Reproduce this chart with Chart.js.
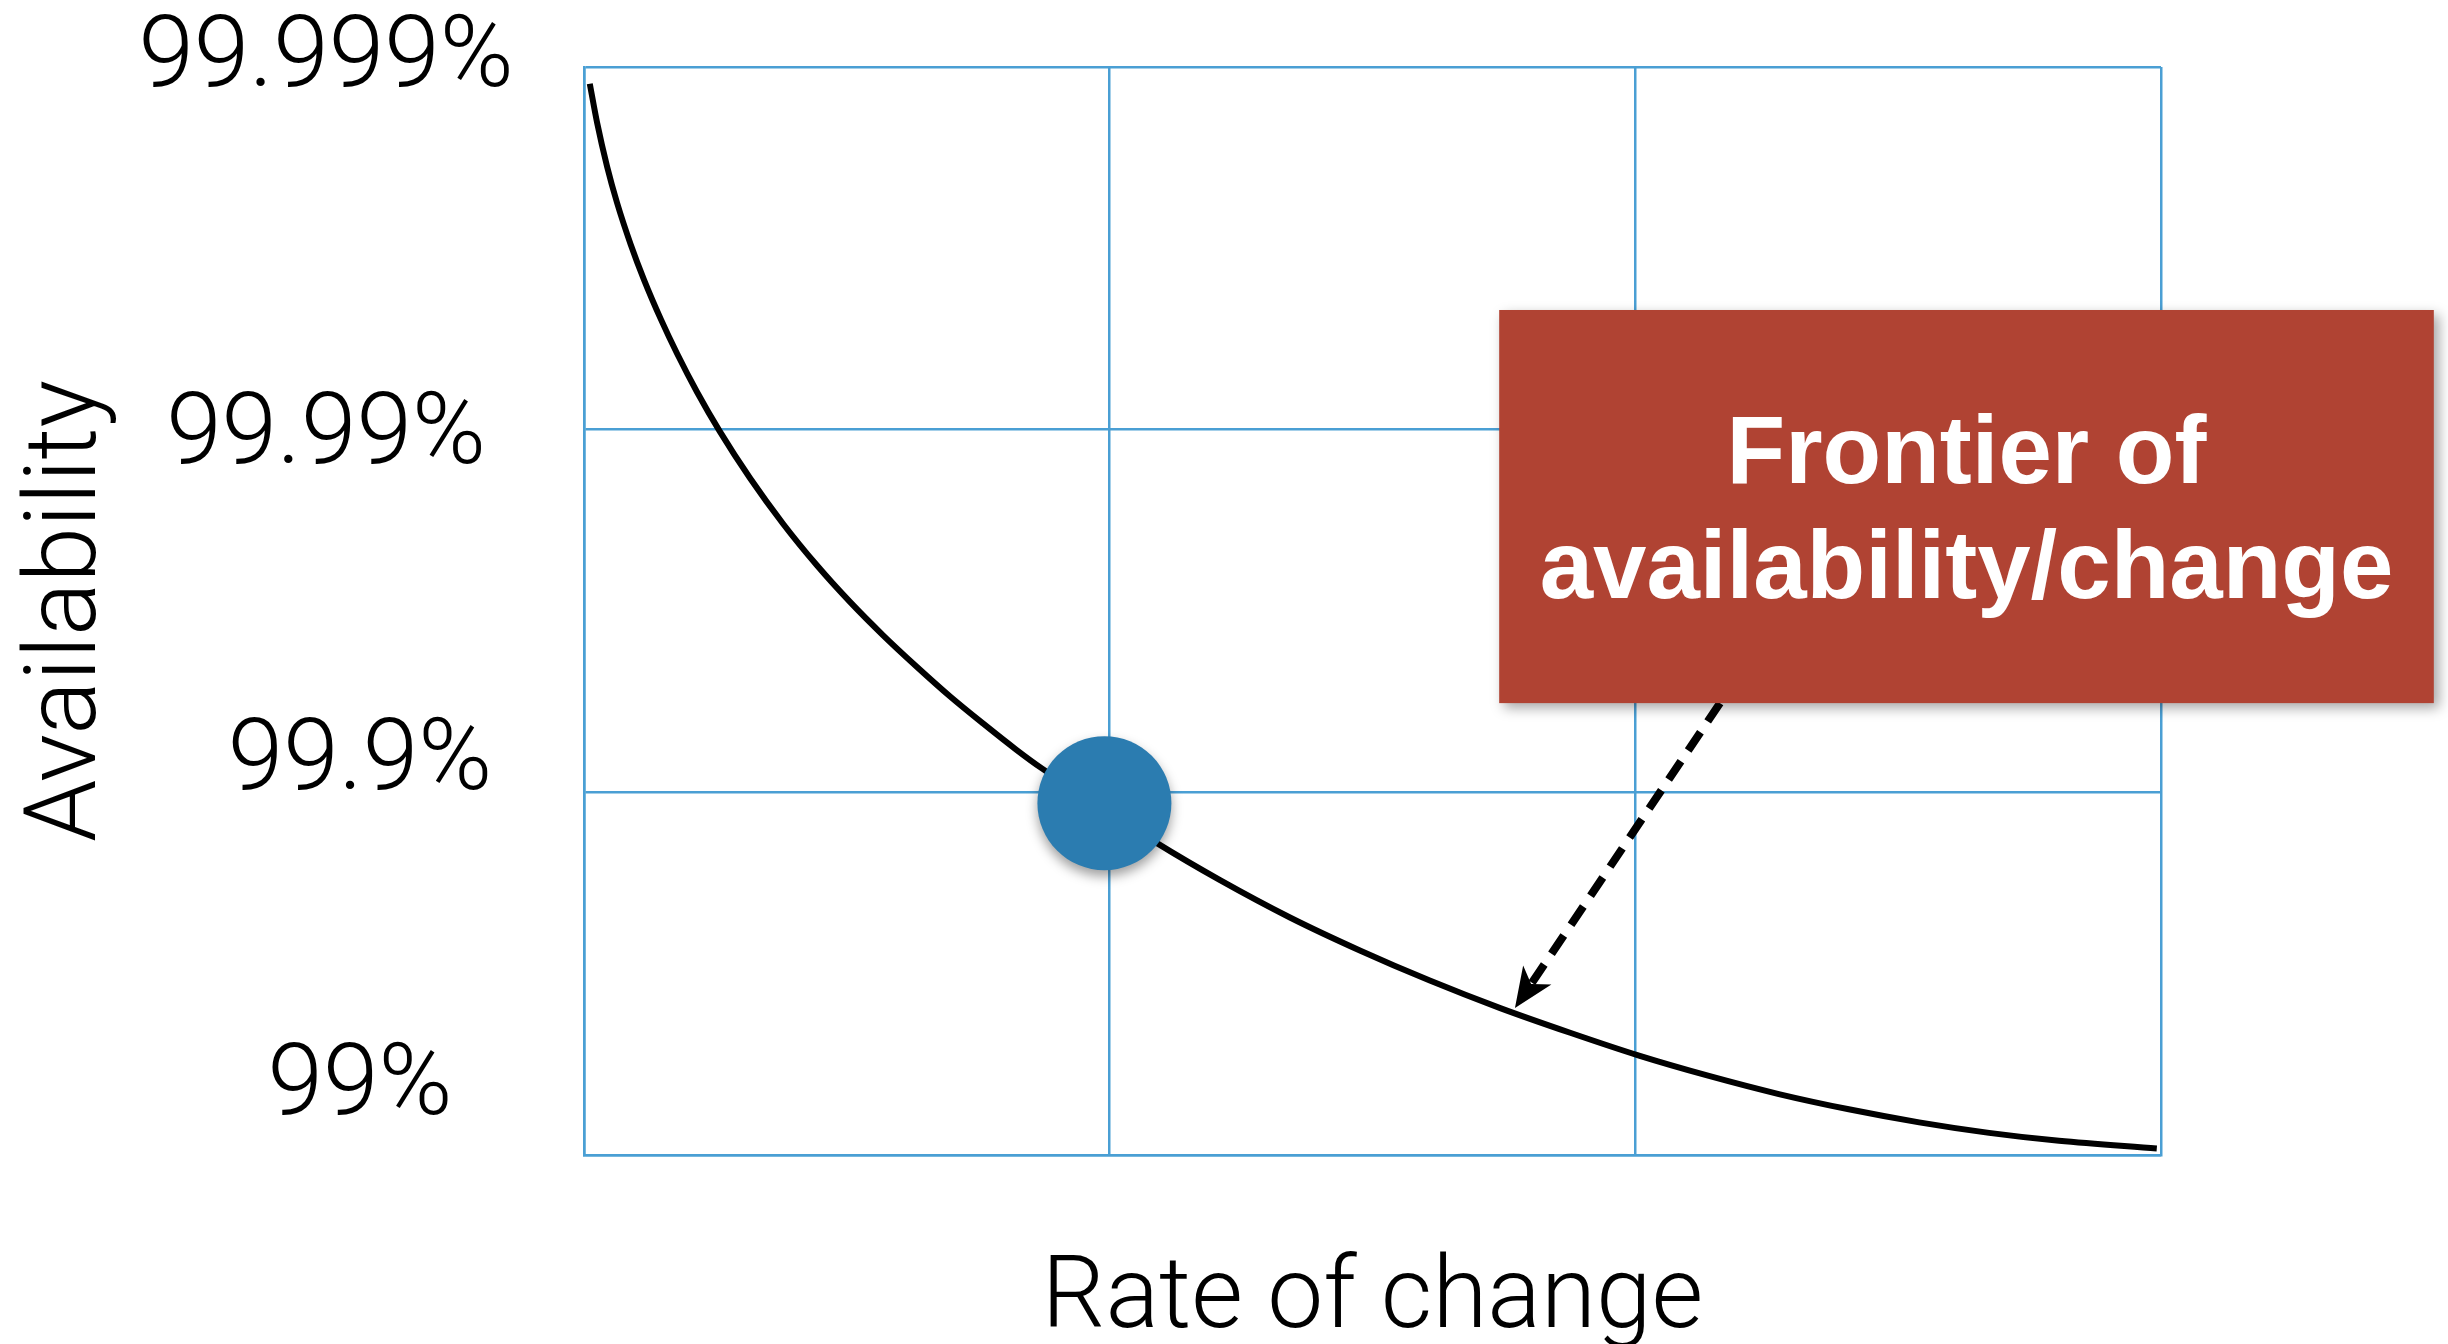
<!DOCTYPE html>
<html>
<head>
<meta charset="utf-8">
<title>Availability vs rate of change</title>
<script src="https://cdn.jsdelivr.net/npm/chart.js@4.4.1/dist/chart.umd.min.js"></script>
<style>
  html, body { margin: 0; padding: 0; background: #ffffff; }
  #wrap { width: 2448px; height: 1344px; }
</style>
</head>
<body>
<div id="wrap"><canvas id="chart" width="2448" height="1344"></canvas></div>
<script>
// Frontier curve: rate of change (x) against availability expressed in "nines"
// (2 = 99%, 3 = 99.9%, 4 = 99.99%, 5 = 99.999%).
const rateOfChange = [0.011, 0.025, 0.044, 0.063, 0.089, 0.114, 0.147, 0.177, 0.215, 0.258,
  0.316, 0.379, 0.443, 0.506, 0.569, 0.634, 0.696, 0.759, 0.822, 0.871, 1.090, 1.210,
  1.343, 1.476, 1.609, 1.743, 1.876, 2.007, 2.140, 2.273, 2.406, 2.540, 2.673, 2.806, 2.992];
const availabilityNines = [4.954, 4.846, 4.725, 4.625, 4.510, 4.414, 4.302, 4.210, 4.104, 3.996,
  3.866, 3.740, 3.626, 3.525, 3.433, 3.345, 3.265, 3.190, 3.118, 3.066, 2.860, 2.758,
  2.655, 2.564, 2.481, 2.405, 2.337, 2.274, 2.218, 2.168, 2.126, 2.090, 2.061, 2.039, 2.018];

// Current operating point on the frontier
const currentRate = [0.99];
const currentNines = [2.97];

// Axis ticks
const ninesTicks = [2, 3, 4, 5];
const availabilityLabels = ['99%', '99.9%', '99.99%', '99.999%'];
const rateTicks = [0, 1, 2, 3];

// Callout text
const calloutLines = ['Frontier of', 'availability/change'];

// ---- styling / placement (kept apart from the data) ----
const GRID_BLUE = '#4a9fd4';
const POINT_BLUE = '#2b7cb0';
const CALLOUT_RED = '#b04333';
const LIGHT_FONT = 'Roboto, "Open Sans", Lato, sans-serif';
const BOLD_FONT = '"Liberation Sans", Arial, Helvetica, sans-serif';

// per-label nudges [dx, dy] for the availability labels, relative to their grid line
const labelNudge = [[34, -77], [34, -39], [0, -2], [0, -17]];
const labelGapFromAxis = 258;   // label centre distance left of the plot edge

// callout box and arrow, in data units
const callout = {
  x0: 1.741, x1: 3.519, yTop: 4.330, yBottom: 3.246,
  arrowFrom: { x: 2.161, y: 3.246 },
  arrowTo: { x: 1.771, y: 2.405 }
};

// Draws the availability labels next to their grid lines
const availabilityLabelPlugin = {
  id: 'availabilityLabels',
  afterDraw(chart) {
    const { ctx, scales: { y }, chartArea } = chart;
    const size = 100;
    ctx.save();
    ctx.font = `300 ${size}px ${LIGHT_FONT}`;
    ctx.fillStyle = '#000';
    ctx.textAlign = 'center';
    ctx.textBaseline = 'alphabetic';
    y.ticks.forEach(t => {
      const k = ninesTicks.indexOf(t.value);
      if (k < 0) return;
      const [dx, dy] = labelNudge[k];
      const cx = chartArea.left - labelGapFromAxis + dx;
      const cy = y.getPixelForValue(t.value) + dy;
      ctx.fillText(availabilityLabels[k], cx, cy + size * 0.355);
    });
    ctx.restore();
  }
};

// Soft drop shadow under the operating point
const pointShadowPlugin = {
  id: 'pointShadow',
  beforeDatasetDraw(chart, args) {
    if (args.index !== 0) return;
    const ctx = chart.ctx;
    ctx.save();
    ctx.shadowColor = 'rgba(0,0,0,0.38)';
    ctx.shadowBlur = 12;
    ctx.shadowOffsetX = 0;
    ctx.shadowOffsetY = 6;
  },
  afterDatasetDraw(chart, args) {
    if (args.index !== 0) return;
    chart.ctx.restore();
  }
};

// Red callout box with a dashed arrow pointing at the frontier
const calloutPlugin = {
  id: 'callout',
  afterDatasetsDraw(chart) {
    const { ctx, scales: { x, y } } = chart;
    const fx = x.getPixelForValue(callout.arrowFrom.x);
    const fy = y.getPixelForValue(callout.arrowFrom.y);
    const tx = x.getPixelForValue(callout.arrowTo.x);
    const ty = y.getPixelForValue(callout.arrowTo.y);
    const ang = Math.atan2(ty - fy, tx - fx);
    const headLen = 40, headHalf = 17, notch = 11;

    // dashed shaft
    ctx.save();
    ctx.strokeStyle = '#000';
    ctx.lineWidth = 8;
    ctx.setLineDash([22, 13]);
    ctx.lineCap = 'butt';
    ctx.beginPath();
    ctx.moveTo(fx, fy);
    ctx.lineTo(tx - Math.cos(ang) * (headLen - notch), ty - Math.sin(ang) * (headLen - notch));
    ctx.stroke();
    ctx.setLineDash([]);

    // arrow head
    ctx.translate(tx, ty);
    ctx.rotate(ang);
    ctx.fillStyle = '#000';
    ctx.beginPath();
    ctx.moveTo(0, 0);
    ctx.lineTo(-headLen, -headHalf);
    ctx.lineTo(-headLen + notch, 0);
    ctx.lineTo(-headLen, headHalf);
    ctx.closePath();
    ctx.fill();
    ctx.restore();

    // box
    const bx0 = x.getPixelForValue(callout.x0);
    const bx1 = x.getPixelForValue(callout.x1);
    const by0 = y.getPixelForValue(callout.yTop);
    const by1 = y.getPixelForValue(callout.yBottom);
    ctx.save();
    ctx.shadowColor = 'rgba(0,0,0,0.35)';
    ctx.shadowBlur = 12;
    ctx.shadowOffsetX = 5;
    ctx.shadowOffsetY = 5;
    ctx.fillStyle = CALLOUT_RED;
    ctx.fillRect(bx0, by0, bx1 - bx0, by1 - by0);
    ctx.restore();

    // box text
    const size = 96, lineGap = 115, cap = size * 0.716;
    const cx = (bx0 + bx1) / 2, cy = (by0 + by1) / 2;
    const first = cy - (cap + lineGap * (calloutLines.length - 1)) / 2 + cap;
    ctx.save();
    ctx.font = `bold ${size}px ${BOLD_FONT}`;
    ctx.fillStyle = '#ffffff';
    ctx.textAlign = 'center';
    ctx.textBaseline = 'alphabetic';
    calloutLines.forEach((line, i) => ctx.fillText(line, cx, first + i * lineGap));
    ctx.restore();
  }
};

new Chart(document.getElementById('chart'), {
  type: 'line',
  data: {
    datasets: [
      {
        label: 'Operating point',
        data: currentRate.map((v, i) => ({ x: v, y: currentNines[i] })),
        showLine: false,
        pointRadius: 67,
        pointHoverRadius: 67,
        pointBackgroundColor: POINT_BLUE,
        pointBorderWidth: 0,
        order: 0,
        clip: false
      },
      {
        label: 'Frontier of availability/change',
        data: rateOfChange.map((v, i) => ({ x: v, y: availabilityNines[i] })),
        borderColor: '#000000',
        borderWidth: 6,
        borderCapStyle: 'butt',
        pointRadius: 0,
        cubicInterpolationMode: 'monotone',
        fill: false,
        order: 1
      }
    ]
  },
  options: {
    responsive: false,
    animation: false,
    events: [],
    layout: { padding: { top: 67, right: 287, left: 0, bottom: 0 } },
    plugins: { legend: { display: false }, tooltip: { enabled: false } },
    scales: {
      x: {
        type: 'linear',
        min: 0,
        max: 3,
        afterBuildTicks: s => { s.ticks = rateTicks.map(v => ({ value: v })); },
        afterFit: s => { s.height = 189; },
        grid: { color: GRID_BLUE, lineWidth: 2.5, drawTicks: false },
        border: { display: true, color: GRID_BLUE, width: 2.5 },
        ticks: { display: false },
        title: {
          display: true,
          text: 'Rate of change',
          color: '#000',
          font: { family: LIGHT_FONT, weight: 300, size: 100, lineHeight: 0.84 },
          padding: { top: 0, bottom: 0 }
        }
      },
      y: {
        type: 'linear',
        min: 2,
        max: 5,
        afterBuildTicks: s => { s.ticks = ninesTicks.map(v => ({ value: v })); },
        afterFit: s => { s.width = 584; },
        grid: { color: GRID_BLUE, lineWidth: 2.5, drawTicks: false },
        border: { display: true, color: GRID_BLUE, width: 2.5 },
        ticks: { display: false },
        title: {
          display: true,
          text: 'Availability',
          color: '#000',
          font: { family: LIGHT_FONT, weight: 300, size: 100, lineHeight: 1 },
          padding: { top: 20, bottom: 0 }
        }
      }
    }
  },
  plugins: [pointShadowPlugin, calloutPlugin, availabilityLabelPlugin]
});
</script>
</body>
</html>
